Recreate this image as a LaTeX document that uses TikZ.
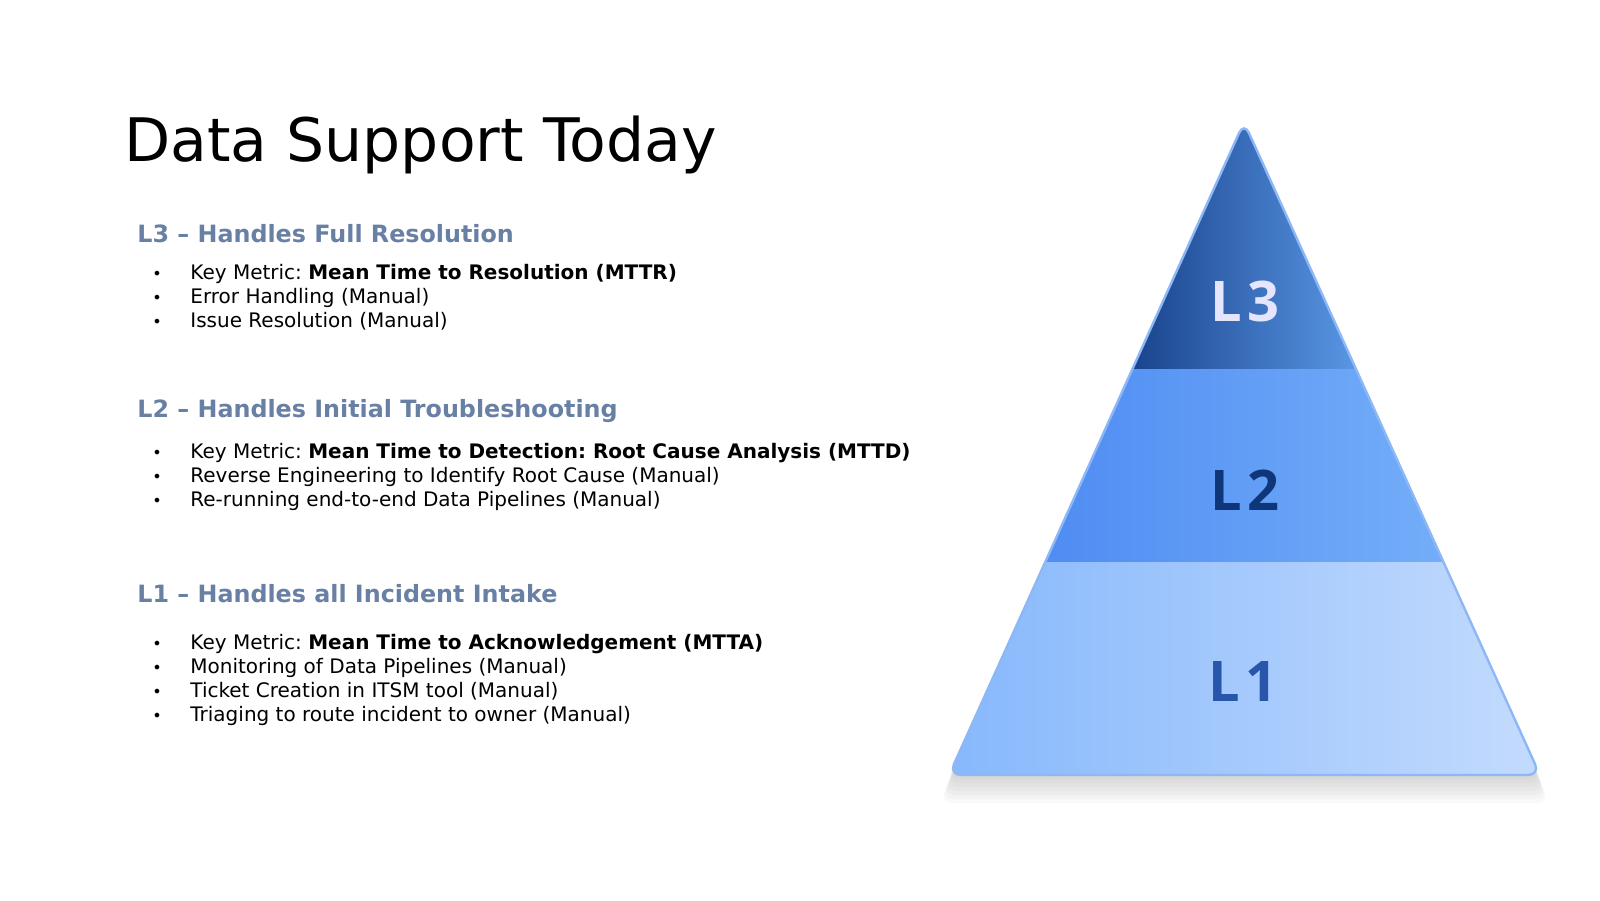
\documentclass[tikz,border=0pt]{standalone}
\usepackage{fontspec}
\setmainfont{DejaVu Sans}
\newfontfamily\lvlfont{Open Sans}
\usepackage{xcolor}
\usetikzlibrary{positioning,calc}
\frenchspacing

\definecolor{headblue}{HTML}{6880A4}
\definecolor{edgeblue}{HTML}{8DB8F5}
\definecolor{lthreeA}{HTML}{133B84}
\definecolor{lthreeB}{HTML}{5A98E6}
\definecolor{ltwoA}{HTML}{4F8CF2}
\definecolor{ltwoB}{HTML}{74AEF9}
\definecolor{loneA}{HTML}{86B8FC}
\definecolor{loneB}{HTML}{C4DBFD}

\begin{document}
\begin{tikzpicture}[
  x=0.5pt, y=-0.5pt,
  title/.style={anchor=base west, inner sep=0, font=\fontsize{30}{36}\selectfont},
  head/.style={anchor=base west, inner sep=0, text=headblue, font=\fontsize{11.9}{14}\selectfont\bfseries},
  item/.style={anchor=base west, inner sep=0, font=\fontsize{10}{12}\selectfont},
  bul/.style={anchor=base, inner sep=0, font=\fontsize{8}{9}\selectfont},
  lvl/.style={inner sep=0, font=\lvlfont\fontsize{28}{30}\selectfont\bfseries}
]
  \useasboundingbox (0,0) rectangle (1600,900);

  % title
  \node[title] (ttl) at (124,161) {Data Support Today};

  % L3 block
  \node[head] (h3) at (137,242) {L3 -- Handles Full Resolution};
  \foreach \txt [count=\i] in {{Key Metric: \textbf{Mean Time to Resolution (MTTR)}},
      {Error Handling (Manual)}, {Issue Resolution (Manual)}} {
    \node[bul] (b3\i) at (157,{279+24.4*(\i-1)}) {\textbullet};
    \node[item] (i3\i) at (190,{279+24.4*(\i-1)}) {\txt};
  }

  % L2 block
  \node[head] (h2) at (137,417) {L2 -- Handles Initial Troubleshooting};
  \foreach \txt [count=\i] in {{Key Metric: \textbf{Mean Time to Detection: Root Cause Analysis (MTTD)}},
      {Reverse Engineering to Identify Root Cause (Manual)}, {Re-running end-to-end Data Pipelines (Manual)}} {
    \node[bul] (b2\i) at (157,{458+24.4*(\i-1)}) {\textbullet};
    \node[item] (i2\i) at (190,{458+24.4*(\i-1)}) {\txt};
  }

  % L1 block
  \node[head] (h1) at (137,602) {L1 -- Handles all Incident Intake};
  \foreach \txt [count=\i] in {{Key Metric: \textbf{Mean Time to Acknowledgement (MTTA)}},
      {Monitoring of Data Pipelines (Manual)}, {Ticket Creation in ITSM tool (Manual)},
      {Triaging to route incident to owner (Manual)}} {
    \node[bul] (b1\i) at (157,{649+24.2*(\i-1)}) {\textbullet};
    \node[item] (i1\i) at (190,{649+24.2*(\i-1)}) {\txt};
  }

  % pyramid
  \coordinate (top) at (1244,122);
  \coordinate (bl) at (949,775);
  \coordinate (br) at (1540,775);

  % soft shadow
  \foreach \d in {4,8,...,28} {
    \fill[black, opacity=0.022, rounded corners=6]
      ($(top)+(0,\d)$) -- ($(bl)+(-\d/3,\d)$) -- ($(br)+(\d/3,\d)$) -- cycle;
  }

  \begin{scope}
    \clip[rounded corners=6] (top) -- (bl) -- (br) -- cycle;
    \shade[left color=lthreeA, right color=lthreeB] (1110,110) rectangle (1360,369);
    \shade[left color=ltwoA, right color=ltwoB] (1040,369) rectangle (1450,562);
    \shade[left color=loneA, right color=loneB] (945,562) rectangle (1545,780);
  \end{scope}
  \draw[edgeblue, line width=1.2, rounded corners=6] (top) -- (bl) -- (br) -- cycle;

  % level labels
  \node[lvl, text=blue!10!white] (t3) at (1245,301) {\addfontfeature{LetterSpace=8}L3};
  \node[lvl, text={rgb,255:red,16;green,54;blue,122}] (t2) at (1245,490) {\addfontfeature{LetterSpace=8}L2};
  \node[lvl, text={rgb,255:red,40;green,86;blue,170}] (t1) at (1243,682) {\addfontfeature{LetterSpace=8}L1};
\end{tikzpicture}
\end{document}
